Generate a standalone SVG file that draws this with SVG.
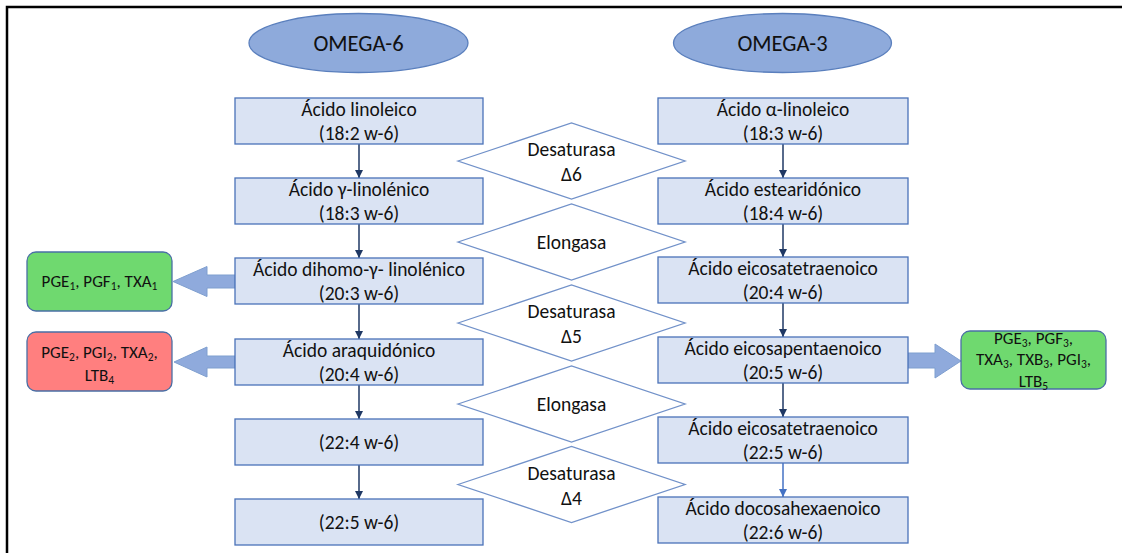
<svg xmlns="http://www.w3.org/2000/svg" width="1122" height="553" viewBox="0 0 1122 553">
<defs>
<style>
text{font-family:Carlito,Lato,"Liberation Sans",sans-serif;fill:#111;text-anchor:middle}
.t{font-size:19.5px}
.s{font-size:17px}
.e{font-size:22.5px}
.sub{font-size:11.5px}
.box{fill:#dae3f3;stroke:#4a72b8;stroke-width:1.3}
.dia{fill:#fff;stroke:#7191c9;stroke-width:1.3}
.ell{fill:#8eaadb;stroke:#5a7fbd;stroke-width:1.3}
.con{stroke:#1f3864;stroke-width:1.5;fill:none}
.blk{fill:#8faadc;stroke:#7f9fcf;stroke-width:1}
.gr{fill:#6fd96f;stroke:#4a6fa5;stroke-width:1.3}
.rd{fill:#ff7f7f;stroke:#4a6fa5;stroke-width:1.3}
</style>
<marker id="ah" viewBox="0 0 10 10" refX="10" refY="5" markerWidth="8" markerHeight="8" markerUnits="userSpaceOnUse" orient="auto"><path d="M0,0 L10,5 L0,10 Z" fill="#1f3864"/></marker>
<marker id="ah2" viewBox="0 0 10 10" refX="10" refY="5" markerWidth="8" markerHeight="8" markerUnits="userSpaceOnUse" orient="auto"><path d="M0,0 L10,5 L0,10 Z" fill="#4472c4"/></marker>
</defs>
<rect width="1122" height="553" fill="#fff"/>
<path d="M7,560 L7,7 L1130,7" fill="none" stroke="#000" stroke-width="2.5"/>

<g id="omega6"><ellipse class="ell" cx="358.5" cy="43" rx="109.5" ry="29.5"/><text class="e" x="358.5" y="50.5">OMEGA-6</text></g>
<g id="omega3"><ellipse class="ell" cx="782.5" cy="43" rx="109" ry="29.5"/><text class="e" x="782.5" y="50.5">OMEGA-3</text></g>

<g id="connectors">
<line class="con" x1="359" y1="144" x2="359" y2="178" marker-end="url(#ah)"/>
<line class="con" x1="359" y1="224" x2="359" y2="258" marker-end="url(#ah)"/>
<line class="con" x1="359" y1="304" x2="359" y2="339" marker-end="url(#ah)"/>
<line class="con" x1="359" y1="385" x2="359" y2="419" marker-end="url(#ah)"/>
<line class="con" x1="359" y1="465" x2="359" y2="499" marker-end="url(#ah)"/>
<line class="con" x1="783" y1="144" x2="783" y2="178" marker-end="url(#ah)"/>
<line class="con" x1="783" y1="224" x2="783" y2="257" marker-end="url(#ah)"/>
<line class="con" x1="783" y1="303" x2="783" y2="337" marker-end="url(#ah)"/>
<line class="con" x1="783" y1="383" x2="783" y2="417" marker-end="url(#ah)"/>
<line x1="783" y1="463" x2="783" y2="497" stroke="#4472c4" stroke-width="1.5" marker-end="url(#ah2)"/>
<path class="blk" d="M235,275 L207,275 L207,266.5 L173,281.5 L207,296.5 L207,288 L235,288 Z"/>
<path class="blk" d="M235,356 L207,356 L207,347 L174,362 L207,377 L207,368 L235,368 Z"/>
<path class="blk" d="M908,353 L935,353 L935,344 L961,361 L935,378 L935,368 L908,368 Z"/>
</g>

<g id="d1"><polygon class="dia" points="458,161 571.5,123 685,161 571.5,199"/><text class="t" x="571.5" y="156">Desaturasa</text><text class="t" x="571.5" y="181">Δ6</text></g>
<g id="d2"><polygon class="dia" points="458,242 571.5,204 685,242 571.5,280"/><text class="t" x="571.5" y="248.5">Elongasa</text></g>
<g id="d3"><polygon class="dia" points="458,323 571.5,285 685,323 571.5,361"/><text class="t" x="571.5" y="318">Desaturasa</text><text class="t" x="571.5" y="343">Δ5</text></g>
<g id="d4"><polygon class="dia" points="458,404 571.5,366 685,404 571.5,442"/><text class="t" x="571.5" y="410.5">Elongasa</text></g>
<g id="d5"><polygon class="dia" points="458,484.5 571.5,446.5 685,484.5 571.5,522.5"/><text class="t" x="571.5" y="479.5">Desaturasa</text><text class="t" x="571.5" y="504.5">Δ4</text></g>

<g id="l1"><rect class="box" x="235" y="98" width="248" height="46"/><text class="t" x="359" y="115.5">Ácido linoleico</text><text class="t" x="359" y="139.5">(18:2 w-6)</text></g>
<g id="l2"><rect class="box" x="235" y="178" width="248" height="46"/><text class="t" x="359" y="195.5">Ácido γ-linolénico</text><text class="t" x="359" y="219.5">(18:3 w-6)</text></g>
<g id="l3"><rect class="box" x="235" y="258" width="248" height="46"/><text class="t" x="359" y="275.5">Ácido dihomo-γ- linolénico</text><text class="t" x="359" y="299.5">(20:3 w-6)</text></g>
<g id="l4"><rect class="box" x="235" y="339" width="248" height="46"/><text class="t" x="359" y="356.5">Ácido araquidónico</text><text class="t" x="359" y="380.5">(20:4 w-6)</text></g>
<g id="l5"><rect class="box" x="235" y="419" width="248" height="46"/><text class="t" x="359" y="449">(22:4 w-6)</text></g>
<g id="l6"><rect class="box" x="235" y="499" width="248" height="46"/><text class="t" x="359" y="529">(22:5 w-6)</text></g>

<g id="r1"><rect class="box" x="658" y="98" width="250" height="46"/><text class="t" x="783" y="115.5">Ácido α-linoleico</text><text class="t" x="783" y="139.5">(18:3 w-6)</text></g>
<g id="r2"><rect class="box" x="658" y="178" width="250" height="46"/><text class="t" x="783" y="195.5">Ácido estearidónico</text><text class="t" x="783" y="219.5">(18:4 w-6)</text></g>
<g id="r3"><rect class="box" x="658" y="257" width="250" height="46"/><text class="t" x="783" y="274.5">Ácido eicosatetraenoico</text><text class="t" x="783" y="298.5">(20:4 w-6)</text></g>
<g id="r4"><rect class="box" x="658" y="337" width="250" height="46"/><text class="t" x="783" y="354.5">Ácido eicosapentaenoico</text><text class="t" x="783" y="378.5">(20:5 w-6)</text></g>
<g id="r5"><rect class="box" x="658" y="417" width="250" height="46"/><text class="t" x="783" y="434.5">Ácido eicosatetraenoico</text><text class="t" x="783" y="458.5">(22:5 w-6)</text></g>
<g id="r6"><rect class="box" x="658" y="497" width="250" height="46"/><text class="t" x="783" y="514.5">Ácido docosahexaenoico</text><text class="t" x="783" y="538.5">(22:6 w-6)</text></g>

<g id="g1"><rect class="gr" x="27" y="252" width="145" height="59" rx="9"/><text class="s" x="99.5" y="287">PGE<tspan class="sub" dy="3">1</tspan><tspan dy="-3">, PGF</tspan><tspan class="sub" dy="3">1</tspan><tspan dy="-3">, TXA</tspan><tspan class="sub" dy="3">1</tspan></text></g>
<g id="g2"><rect class="rd" x="27" y="332" width="145" height="59" rx="9"/><text class="s" x="99.5" y="358">PGE<tspan class="sub" dy="3">2</tspan><tspan dy="-3">, PGI</tspan><tspan class="sub" dy="3">2</tspan><tspan dy="-3">, TXA</tspan><tspan class="sub" dy="3">2</tspan><tspan dy="-3">,</tspan></text><text class="s" x="99.5" y="381">LTB<tspan class="sub" dy="3">4</tspan></text></g>
<g id="g3"><rect class="gr" x="961" y="331" width="145" height="58" rx="9"/><text class="s" x="1033.5" y="343.5">PGE<tspan class="sub" dy="3">3</tspan><tspan dy="-3">, PGF</tspan><tspan class="sub" dy="3">3</tspan><tspan dy="-3">,</tspan></text><text class="s" x="1033.5" y="365">TXA<tspan class="sub" dy="3">3</tspan><tspan dy="-3">, TXB</tspan><tspan class="sub" dy="3">3</tspan><tspan dy="-3">, PGI</tspan><tspan class="sub" dy="3">3</tspan><tspan dy="-3">,</tspan></text><text class="s" x="1033.5" y="387">LTB<tspan class="sub" dy="3">5</tspan></text></g>
</svg>
